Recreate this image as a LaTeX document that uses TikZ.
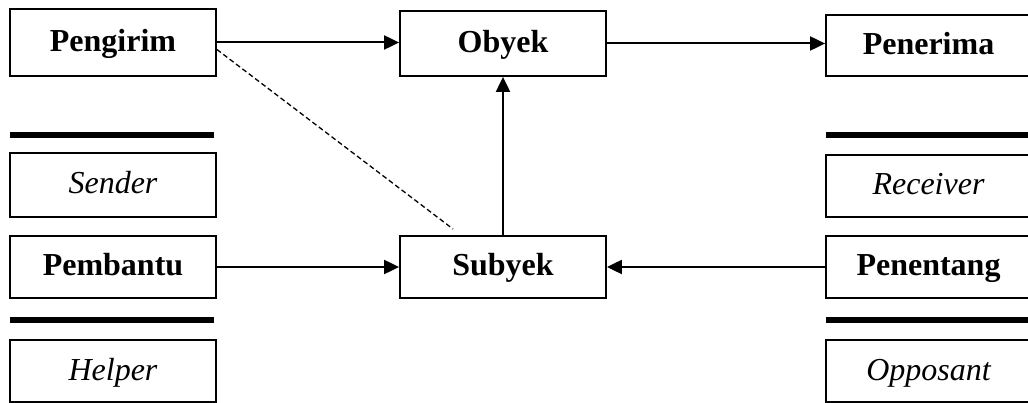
\documentclass[tikz,border=0pt]{standalone}
\usepackage{fontspec}
\setmainfont{Liberation Serif}
\usetikzlibrary{arrows.meta,calc}
\begin{document}
\begin{tikzpicture}[x=1pt,y=-1pt,
  box/.style={draw,line width=1.8pt,inner sep=0pt,minimum width=206pt,text height=21pt,text depth=3pt},
  boldbox/.style={box,font=\fontsize{32}{36}\selectfont\bfseries},
  itbox/.style={box,font=\fontsize{32}{36}\selectfont\itshape},
  conn/.style={line width=2pt,-{Triangle[length=15pt,width=14pt]}},
  bar/.style={line width=6pt}]
\useasboundingbox (0,0) rectangle (1028,403);
\begin{scope}
\clip (0,0) rectangle (1028,403);
% left column
\node[boldbox,minimum height=67pt] (Pengirim) at (113,42.5) {Pengirim};
\node[itbox,minimum height=64pt] (Sender) at (113,185) {Sender};
\node[boldbox,minimum height=62pt] (Pembantu) at (113,267) {Pembantu};
\node[itbox,minimum height=62pt] (Helper) at (113,371) {Helper};
\draw[bar] (10,135) -- (214,135);
\draw[bar] (10,320) -- (214,320);
% middle
\node[boldbox,minimum height=65pt] (Obyek) at (503,43.5) {Obyek};
\node[boldbox,minimum height=62pt] (Subyek) at (503,267) {Subyek};
% right column
\node[boldbox,minimum width=205pt,minimum height=61pt] (Penerima) at (928.5,45.5) {Penerima};
\node[itbox,minimum width=205pt,minimum height=62pt] (Receiver) at (928.5,186) {Receiver};
\node[boldbox,minimum width=205pt,minimum height=62pt] (Penentang) at (928.5,267) {Penentang};
\node[itbox,minimum width=205pt,minimum height=62pt] (Opposant) at (928.5,371) {Opposant};
\draw[bar] (826,135) -- (1032,135);
\draw[bar] (826,320) -- (1032,320);
% connectors
\draw[conn] (Pengirim.east) -- (Pengirim.east -| Obyek.west);
\draw[conn] (Obyek.east) -- (Obyek.east -| Penerima.west);
\draw[conn] (Subyek.north) -- (Obyek.south);
\draw[conn] (Pembantu.east) -- (Subyek.west);
\draw[conn] (Penentang.west) -- (Subyek.east);
\coordinate (dashEnd) at (453,229);
\draw[line width=1.3pt,dash pattern=on 5pt off 3pt] ($(Pengirim.east)+(0,7)$) -- (dashEnd);
\end{scope}
\end{tikzpicture}
\end{document}
